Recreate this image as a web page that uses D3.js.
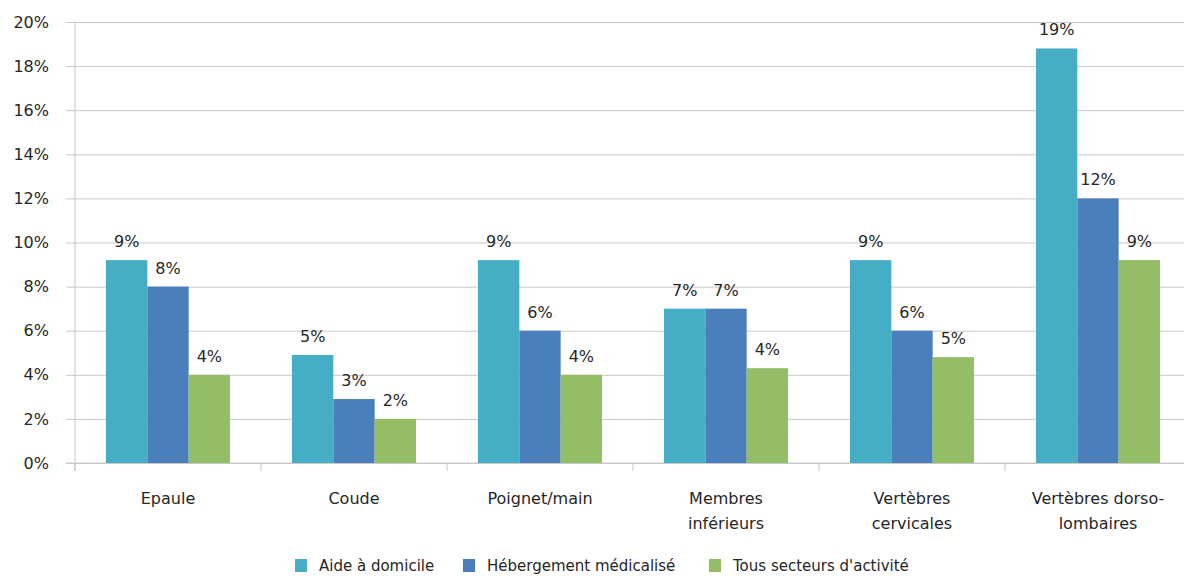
<!DOCTYPE html>
<html>
<head>
<meta charset="utf-8">
<script src="https://cdn.jsdelivr.net/npm/d3@7"></script>
<style>
  html, body { margin: 0; padding: 0; background: #fff; }
  svg { display: block; font-family: "DejaVu Sans", "Noto Sans", sans-serif; }
</style>
</head>
<body>
<svg id="chart" width="1184" height="576"></svg>
<script>
// Troubles musculo-squelettiques par localisation (% des cas)
const categories = [
  ["Epaule"],
  ["Coude"],
  ["Poignet/main"],
  ["Membres", "inférieurs"],
  ["Vertèbres", "cervicales"],
  ["Vertèbres dorso-", "lombaires"]
];
const seriesNames = ["Aide à domicile", "Hébergement médicalisé", "Tous secteurs d'activité"];
const aideDomicile = [9.2, 4.9, 9.2, 7.0, 9.2, 18.8];
const hebergement  = [8.0, 2.9, 6.0, 7.0, 6.0, 12.0];
const tousSecteurs = [4.0, 2.0, 4.0, 4.3, 4.8, 9.2];
const yTicks = [0, 2, 4, 6, 8, 10, 12, 14, 16, 18, 20];
const colors = ["#45aec5", "#4a7fbc", "#93be66"];

const series = [aideDomicile, hebergement, tousSecteurs];
const svg = d3.select("#chart");

const plotLeft = 75, plotTop = 22, plotBottom = 463, bandW = 186;
const x0 = d3.scaleBand()
  .domain(d3.range(categories.length))
  .range([plotLeft, plotLeft + bandW * categories.length])
  .paddingInner(0).paddingOuter(0);
const x1 = d3.scaleBand()
  .domain(d3.range(series.length))
  .range([31, bandW - 31]);
const y = d3.scaleLinear().domain([0, 20]).range([plotBottom, plotTop]);

// horizontal grid lines + y labels
const yAxis = d3.axisLeft(y).tickValues(yTicks).tickFormat(d => d + "%")
  .tickSize(-(1184 - plotLeft)).tickPadding(18);
const gy = svg.append("g").attr("transform", `translate(${plotLeft},0)`).call(yAxis);
gy.select(".domain").remove();
gy.selectAll(".tick line").attr("stroke", "#c8c8c8").attr("x1", -9);
gy.selectAll(".tick text").attr("fill", "#262626").style("font-size", "16px")
  .style("font-family", "'DejaVu Sans', sans-serif")
  .attr("x", -26);

// left axis line
svg.append("line").attr("x1", plotLeft).attr("x2", plotLeft)
  .attr("y1", plotTop).attr("y2", plotBottom + 8)
  .attr("stroke", "#c8c8c8");

// bottom axis with group separators
svg.append("line").attr("x1", plotLeft - 9).attr("x2", 1184)
  .attr("y1", plotBottom).attr("y2", plotBottom)
  .attr("stroke", "#c8c8c8");
svg.append("g").selectAll("line")
  .data(d3.range(categories.length + 1))
  .join("line")
  .attr("x1", i => plotLeft + i * bandW).attr("x2", i => plotLeft + i * bandW)
  .attr("y1", plotBottom).attr("y2", plotBottom + 8)
  .attr("stroke", "#c8c8c8");

// bars
const groups = svg.append("g").selectAll("g")
  .data(categories.map((c, i) => i))
  .join("g")
  .attr("transform", i => `translate(${x0(i)},0)`);

groups.selectAll("rect")
  .data(i => series.map((s, k) => ({ k, v: s[i] })))
  .join("rect")
  .attr("x", d => x1(d.k))
  .attr("width", x1.bandwidth())
  .attr("y", d => y(d.v))
  .attr("height", d => y(0) - y(d.v))
  .attr("fill", d => colors[d.k]);

// value labels
groups.selectAll("text.val")
  .data(i => series.map((s, k) => ({ k, v: s[i] })))
  .join("text")
  .attr("class", "val")
  .attr("x", d => x1(d.k) + x1.bandwidth() / 2)
  .attr("y", d => y(d.v) - 13)
  .attr("text-anchor", "middle")
  .attr("fill", "#262626")
  .style("font-size", "16px")
  .text(d => Math.round(d.v) + "%");

// category labels
const catText = svg.append("g").selectAll("text")
  .data(categories)
  .join("text")
  .attr("x", (c, i) => x0(i) + bandW / 2)
  .attr("y", 504)
  .attr("text-anchor", "middle")
  .attr("fill", "#262626")
  .style("font-size", "16px");
catText.selectAll("tspan")
  .data(c => c)
  .join("tspan")
  .attr("x", function () { return d3.select(this.parentNode).attr("x"); })
  .attr("dy", (d, j) => j === 0 ? 0 : 25)
  .text(d => d);

// legend
const legendX = [295, 463, 709];
const lg = svg.append("g").selectAll("g")
  .data(seriesNames)
  .join("g")
  .attr("transform", (d, i) => `translate(${legendX[i]},559)`);
lg.append("rect").attr("width", 12).attr("height", 13).attr("fill", (d, i) => colors[i]);
lg.append("text").attr("x", 24).attr("y", 12).attr("fill", "#262626")
  .style("font-size", "15px").text(d => d);
</script>
</body>
</html>
